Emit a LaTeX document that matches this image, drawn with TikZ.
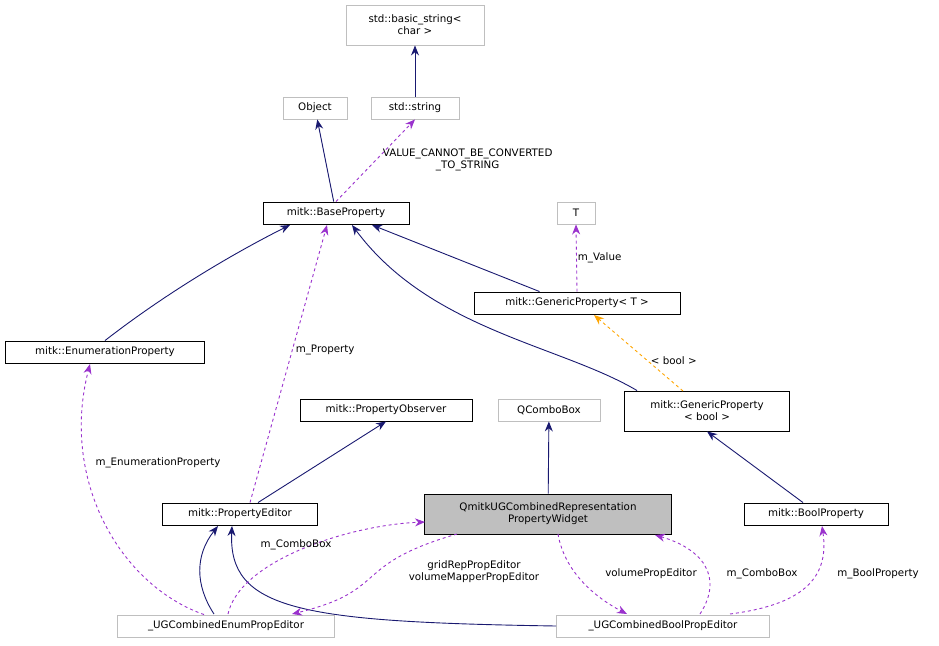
\documentclass[tikz,border=0pt]{standalone}
\usepackage{fontspec}
\setmainfont{DejaVu Sans}
\usetikzlibrary{arrows.meta}
\definecolor{nv}{HTML}{191970}
\definecolor{pu}{HTML}{9A32CD}
\definecolor{og}{HTML}{FFA500}
\definecolor{gb}{HTML}{BFBFBF}
\begin{document}
\begin{tikzpicture}[x=1pt,y=-1pt,line width=0.9pt,
  every node/.style={font=\fontsize{10.3}{12}\selectfont},
  box/.style={draw=black,fill=white,inner sep=0pt,minimum height=22pt,align=center},
  gbox/.style={box,draw=gb},
  inh/.style={nv,-{Stealth[length=10pt,width=8pt]}},
  use/.style={pu,dashed,-{Stealth[length=10pt,width=8pt]}},
  tpl/.style={og,dashed,-{Stealth[length=10pt,width=8pt]}},
  lbl/.style={align=center,inner sep=1pt}]
\useasboundingbox (0,0) rectangle (939,645);
\node[gbox,minimum width=138pt,minimum height=40pt] (bs) at (415,25) {std::basic\_string<\\char >};
\node[gbox,minimum width=64pt] (obj) at (315,108) {Object};
\node[gbox,minimum width=88pt] (ss) at (415,108) {std::string};
\node[box,minimum width=146pt] (bp) at (336,213) {mitk::BaseProperty};
\node[gbox,minimum width=38pt] (t) at (576,213) {T};
\node[box,minimum width=206pt] (gpt) at (577,303) {mitk::GenericProperty< T >};
\node[box,minimum width=199pt] (ep) at (105,352) {mitk::EnumerationProperty};
\node[box,minimum width=172pt] (po) at (386,410) {mitk::PropertyObserver};
\node[gbox,minimum width=102pt] (qc) at (549,410) {QComboBox};
\node[box,minimum width=165pt,minimum height=40pt] (gpb) at (707,411) {mitk::GenericProperty\\< bool >};
\node[box,fill=gb,minimum width=247pt,minimum height=40pt] (qm) at (548,514) {QmitkUGCombinedRepresentation\\PropertyWidget};
\node[box,minimum width=155pt] (pe) at (240,514) {mitk::PropertyEditor};
\node[box,minimum width=144pt] (bop) at (816,514) {mitk::BoolProperty};
\node[gbox,minimum width=217pt] (epe) at (226,626) {\_UGCombinedEnumPropEditor};
\node[gbox,minimum width=213pt] (bpe) at (663,626) {\_UGCombinedBoolPropEditor};

\draw[inh] (ss) -- (bs);
\draw[inh] (bp) -- (obj);
\draw[use] (bp.north) -- (ss.south) node[lbl,midway,right,xshift=6pt,yshift=1pt,black] {VALUE\_CANNOT\_BE\_CONVERTED\\\_TO\_STRING};
\draw[inh] (ep.north) .. controls (170,290) and (240,250) .. (290,225);
\draw[inh] (gpt.north west) ++(66,0) -- (372,225);
\draw[inh] (gpb.north west) ++(13,0) .. controls (560,345) and (430,330) .. (352,225);
\draw[use] (gpt.north) -- (t.south) node[lbl,midway,right,black] {m\_Value};
\draw[tpl] (683,391) -- (594,315) node[lbl,pos=0.4,right,black,xshift=2pt] {< bool >};
\draw[use] (pe.north) ++(10,0) -- (327,225) node[lbl,pos=0.55,right,black,xshift=2pt] {m\_Property};
\draw[inh] (pe.north) ++(18,0) -- (po.south);
\draw[inh] (qm) -- (qc);
\draw[inh] (bop.north) ++(-13,0) -- (gpb.south);
\draw[use] (epe.north) ++(-22,0) .. controls (120,585) and (60,480) .. (90,364);
\node[lbl] (l0) at (158,463) {m\_EnumerationProperty};
\draw[inh] (214,614) .. controls (195,585) and (195,555) .. (218,526);
\draw[inh] (bpe.west) .. controls (300,622) and (228,610) .. (232,526);
\draw[use] (228,614) .. controls (240,560) and (350,525) .. (425,522);
\node[lbl] (l1) at (296,545) {m\_ComboBox};
\draw[use] (457,534) .. controls (350,565) and (390,590) .. (292,614);
\node[lbl] (l2) at (474,572) {gridRepPropEditor\\volumeMapperPropEditor};
\draw[use] (558,534) .. controls (565,575) and (600,600) .. (627,614);
\node[lbl] (l3) at (651,574) {volumePropEditor};
\draw[use] (700,614) .. controls (725,575) and (700,548) .. (655,535);
\node[lbl] (l4) at (762,574) {m\_ComboBox};
\draw[use] (730,614) .. controls (800,605) and (830,580) .. (822,526);
\node[lbl] (l5) at (878,574) {m\_BoolProperty};
\end{tikzpicture}
\end{document}
